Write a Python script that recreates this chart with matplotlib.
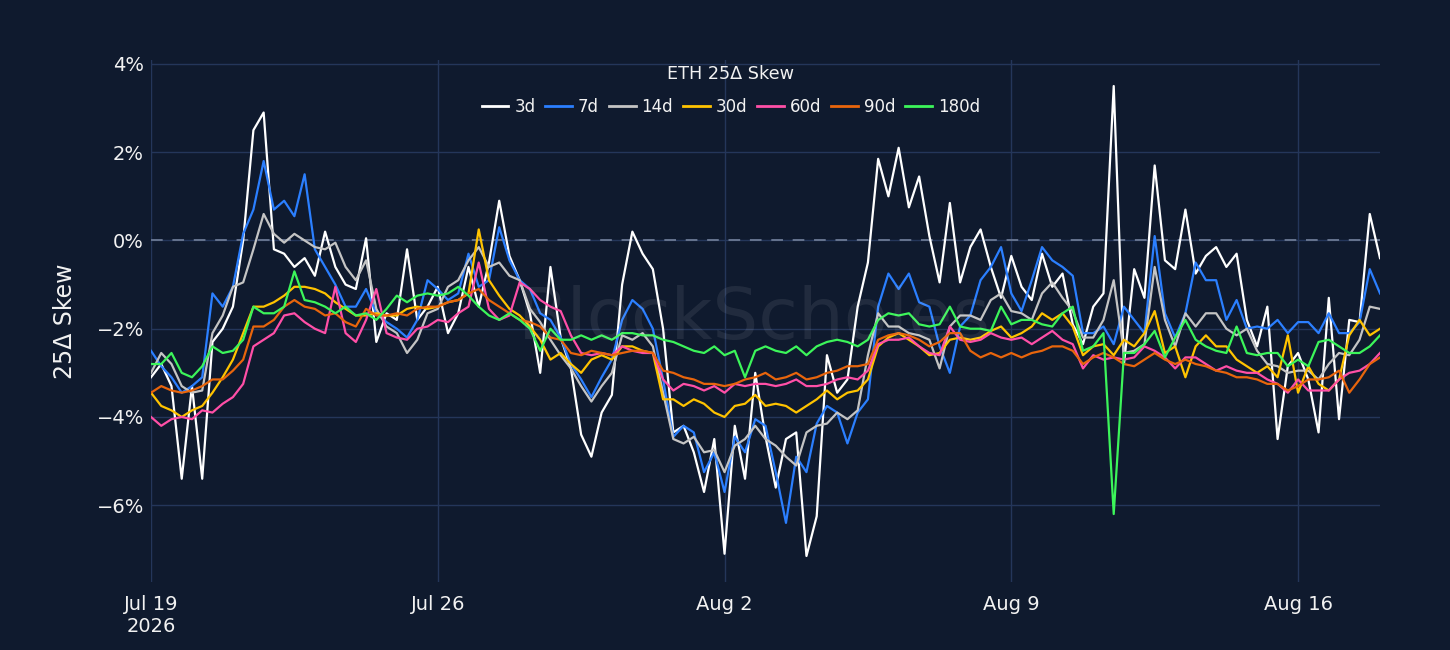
import matplotlib
matplotlib.use("Agg")
import matplotlib.pyplot as plt
import pandas as pd

plt.rcParams["font.family"] = ["DejaVu Sans"]

# 6-hourly samples, Jul 19 00:00 -> Aug 18 00:00 (values in %)
times = pd.date_range("2026-07-19", periods=121, freq="6h")

skew_3d = [
    -3.1, -2.8, -3.3, -5.4,   -3.3, -5.4, -2.3, -2.0,   -1.5, 0.0, 2.5, 2.9,
    -0.2, -0.3, -0.6, -0.4,   -0.8, 0.2, -0.6, -1.0,    -1.1, 0.05, -2.3, -1.65,
    -1.8, -0.2, -1.8, -1.5,   -1.05, -2.1, -1.65, -0.6,  -1.5, -0.5, 0.9, -0.35,
    -0.9, -1.65, -3.0, -0.6,  -2.2, -2.9, -4.4, -4.9,   -3.9, -3.5, -1.0, 0.2,
    -0.3, -0.65, -2.0, -4.35, -4.2, -4.8, -5.7, -4.5,   -7.1, -4.2, -5.4, -3.0,
    -4.45, -5.6, -4.5, -4.35, -7.15, -6.25, -2.6, -3.45, -3.15, -1.5, -0.5, 1.85,
    1.0, 2.1, 0.75, 1.45,     0.1, -0.95, 0.85, -0.95,  -0.15, 0.25, -0.6, -1.3,
    -0.35, -1.05, -1.35, -0.3, -1.05, -0.75, -1.9, -2.35, -1.5, -1.2, 3.5, -2.8,
    -0.65, -1.3, 1.7, -0.45,  -0.65, 0.7, -0.75, -0.35, -0.15, -0.6, -0.3, -1.8,
    -2.4, -1.5, -4.5, -2.85,  -2.55, -3.15, -4.35, -1.3, -4.05, -1.8, -1.85, 0.6,
    -0.4,
]
skew_7d = [
    -2.5, -2.85, -3.1, -3.45,  -3.3, -3.1, -1.2, -1.5,    -1.05, 0.15, 0.7, 1.8,
    0.7, 0.9, 0.55, 1.5,       -0.2, -0.6, -1.0, -1.5,    -1.5, -1.1, -1.65, -1.85,
    -2.0, -2.2, -1.8, -0.9,    -1.1, -1.35, -1.2, -0.3,   -1.05, -0.9, 0.3, -0.45,
    -0.9, -1.1, -1.65, -1.8,   -2.2, -2.8, -3.15, -3.55,  -3.1, -2.7, -1.8, -1.35,
    -1.55, -2.0, -3.15, -4.45, -4.2, -4.35, -5.25, -4.8,  -5.7, -4.45, -4.8, -4.05,
    -4.2, -5.25, -6.4, -4.9,   -5.25, -4.15, -3.75, -3.9, -4.6, -3.9, -3.6, -1.5,
    -0.75, -1.1, -0.75, -1.4,  -1.5, -2.4, -3.0, -1.95,   -1.7, -0.9, -0.6, -0.15,
    -1.2, -1.6, -0.9, -0.15,   -0.45, -0.6, -0.8, -2.1,   -2.1, -1.95, -2.35, -1.5,
    -1.8, -2.1, 0.1, -1.65,    -2.2, -1.65, -0.5, -0.9,   -0.9, -1.8, -1.35, -2.0,
    -1.95, -2.0, -1.8, -2.1,   -1.85, -1.85, -2.1, -1.65, -2.1, -2.1, -1.85, -0.65,
    -1.2,
]
skew_14d = [
    -3.0, -2.55, -2.8, -3.3,   -3.45, -3.4, -2.1, -1.7,   -1.05, -0.95, -0.2, 0.6,
    0.15, -0.05, 0.15, 0.0,    -0.15, -0.2, -0.05, -0.6,  -0.9, -0.45, -1.55, -1.95,
    -2.1, -2.55, -2.25, -1.65, -1.55, -1.05, -0.9, -0.45, -0.15, -0.6, -0.5, -0.8,
    -0.9, -1.55, -1.85, -2.25, -2.6, -2.9, -3.3, -3.65,   -3.3, -3.0, -2.15, -2.25,
    -2.1, -2.4, -3.45, -4.5,   -4.6, -4.45, -4.8, -4.75,  -5.25, -4.65, -4.5, -4.2,
    -4.5, -4.65, -4.9, -5.1,   -4.35, -4.2, -4.15, -3.9,  -4.05, -3.85, -2.6, -1.65,
    -1.95, -1.95, -2.1, -2.15, -2.25, -2.9, -1.95, -1.7,  -1.7, -1.8, -1.35, -1.2,
    -1.6, -1.65, -1.8, -1.2,   -0.95, -1.3, -1.6, -2.2,   -2.2, -1.8, -0.9, -2.55,
    -2.5, -2.35, -0.6, -1.8,   -2.4, -1.65, -1.95, -1.65, -1.65, -2.0, -2.15, -2.0,
    -2.5, -2.8, -2.85, -3.0,   -2.95, -2.95, -3.15, -2.8, -2.55, -2.6, -2.25, -1.5,
    -1.55,
]
skew_30d = [
    -3.45, -3.75, -3.85, -4.0, -3.85, -3.75, -3.45, -3.1, -2.7, -2.1, -1.5, -1.5,
    -1.4, -1.25, -1.05, -1.05, -1.1, -1.2, -1.4, -1.55,   -1.7, -1.7, -1.65, -1.7,
    -1.7, -1.55, -1.5, -1.55,  -1.5, -1.4, -1.35, -1.2,   0.25, -0.9, -1.25, -1.55,
    -1.7, -1.95, -2.25, -2.7,  -2.55, -2.8, -3.0, -2.7,   -2.6, -2.7, -2.4, -2.4,
    -2.5, -2.55, -3.6, -3.6,   -3.75, -3.6, -3.7, -3.9,   -4.0, -3.75, -3.7, -3.5,
    -3.75, -3.7, -3.75, -3.9,  -3.75, -3.6, -3.4, -3.6,   -3.45, -3.4, -3.15, -2.4,
    -2.2, -2.1, -2.25, -2.4,   -2.6, -2.55, -2.25, -2.2,  -2.25, -2.2, -2.05, -1.95,
    -2.2, -2.1, -1.95, -1.65,  -1.8, -1.65, -1.95, -2.6,  -2.4, -2.35, -2.6, -2.25,
    -2.4, -2.1, -1.6, -2.55,   -2.4, -3.1, -2.4, -2.15,   -2.4, -2.4, -2.7, -2.85,
    -3.0, -2.85, -3.1, -2.15,  -3.45, -2.85, -3.25, -3.4, -3.15, -2.15, -1.8, -2.15,
    -2.0,
]
skew_60d = [
    -4.0, -4.2, -4.05, -4.0,   -4.05, -3.85, -3.9, -3.7,  -3.55, -3.25, -2.4, -2.25,
    -2.1, -1.7, -1.65, -1.85,  -2.0, -2.1, -1.05, -2.1,   -2.3, -1.8, -1.1, -2.1,
    -2.2, -2.25, -2.0, -1.95,  -1.8, -1.85, -1.65, -1.5,  -0.5, -1.55, -1.8, -1.7,
    -0.95, -1.1, -1.35, -1.5,  -1.6, -2.15, -2.55, -2.6,  -2.55, -2.6, -2.4, -2.5,
    -2.55, -2.55, -3.15, -3.4, -3.25, -3.3, -3.4, -3.3,   -3.45, -3.25, -3.3, -3.25,
    -3.25, -3.3, -3.25, -3.15, -3.3, -3.3, -3.25, -3.15,  -3.1, -3.15, -2.95, -2.35,
    -2.25, -2.25, -2.2, -2.4,  -2.55, -2.6, -1.95, -2.25,  -2.3, -2.25, -2.1, -2.2,
    -2.25, -2.2, -2.35, -2.2,  -2.05, -2.25, -2.35, -2.9,  -2.6, -2.7, -2.65, -2.7,
    -2.65, -2.4, -2.5, -2.65,  -2.9, -2.65, -2.65, -2.8,   -2.95, -2.85, -2.95, -3.0,
    -3.0, -3.15, -3.25, -3.45, -3.15, -3.4, -3.4, -3.4,    -3.15, -3.0, -2.95, -2.8,
    -2.55,
]
skew_90d = [
    -3.45, -3.3, -3.4, -3.45,  -3.4, -3.3, -3.15, -3.15,  -2.95, -2.7, -1.95, -1.95,
    -1.8, -1.5, -1.35, -1.5,   -1.55, -1.7, -1.65, -1.85, -1.95, -1.55, -1.7, -1.7,
    -1.65, -1.7, -1.55, -1.5,  -1.5, -1.4, -1.35, -1.2,   -1.1, -1.35, -1.5, -1.65,
    -1.8, -1.85, -1.95, -2.2,  -2.25, -2.55, -2.6, -2.5,  -2.55, -2.6, -2.55, -2.5,
    -2.5, -2.55, -2.95, -3.0,  -3.1, -3.15, -3.25, -3.25, -3.3, -3.25, -3.15, -3.1,
    -3.0, -3.15, -3.1, -3.0,   -3.15, -3.1, -3.0, -2.95,  -2.85, -2.85, -2.8, -2.25,
    -2.15, -2.1, -2.15, -2.25, -2.4, -2.3, -2.1, -2.1,    -2.5, -2.65, -2.55, -2.65,
    -2.55, -2.65, -2.55, -2.5, -2.4, -2.4, -2.5, -2.8,    -2.65, -2.55, -2.65, -2.8,
    -2.85, -2.7, -2.55, -2.7,  -2.8, -2.7, -2.8, -2.85,   -2.95, -3.0, -3.1, -3.1,
    -3.15, -3.25, -3.25, -3.4, -3.3, -3.15, -3.15, -3.1,  -2.95, -3.45, -3.15, -2.8,
    -2.65,
]
skew_180d = [
    -2.8, -2.8, -2.55, -3.0,   -3.1, -2.85, -2.4, -2.55,  -2.5, -2.25, -1.5, -1.65,
    -1.65, -1.5, -0.7, -1.35,  -1.4, -1.5, -1.65, -1.5,   -1.7, -1.65, -1.8, -1.55,
    -1.25, -1.4, -1.25, -1.2,  -1.25, -1.2, -1.05, -1.25, -1.5, -1.7, -1.8, -1.65,
    -1.8, -2.0, -2.5, -2.0,    -2.25, -2.25, -2.15, -2.25, -2.15, -2.25, -2.1, -2.1,
    -2.15, -2.15, -2.25, -2.3, -2.4, -2.5, -2.55, -2.4,   -2.6, -2.5, -3.1, -2.5,
    -2.4, -2.5, -2.55, -2.4,   -2.6, -2.4, -2.3, -2.25,   -2.3, -2.4, -2.25, -1.8,
    -1.65, -1.7, -1.65, -1.9,  -1.95, -1.9, -1.5, -1.95,  -2.0, -2.0, -2.05, -1.5,
    -1.9, -1.8, -1.8, -1.9,    -1.95, -1.65, -1.5, -2.5,  -2.4, -2.1, -6.2, -2.55,
    -2.55, -2.35, -2.05, -2.65, -2.2, -1.8, -2.25, -2.4,  -2.5, -2.55, -1.95, -2.55,
    -2.6, -2.55, -2.55, -2.85, -2.7, -2.85, -2.3, -2.25,  -2.4, -2.55, -2.55, -2.4,
    -2.15,
]

labels = ["3d", "7d", "14d", "30d", "60d", "90d", "180d"]
colors = ["#ffffff", "#2b7fff", "#c4c4c4", "#ffc300", "#ff4fa7", "#e8650c", "#3cf55a"]
series = [skew_3d, skew_7d, skew_14d, skew_30d, skew_60d, skew_90d, skew_180d]

tick_dates = pd.to_datetime(["2026-07-19", "2026-07-26", "2026-08-02", "2026-08-09", "2026-08-16"])
tick_labels = ["Jul 19\n2026", "Jul 26", "Aug 2", "Aug 9", "Aug 16"]
y_ticks = [-6, -4, -2, 0, 2, 4]
y_labels = ["\u22126%", "\u22124%", "\u22122%", "0%", "2%", "4%"]

BG = "#0f1a2e"
GRID = "#24365a"
TXT = "#f2f2f2"

fig = plt.figure(figsize=(14.5, 6.5), dpi=100, facecolor=BG)
ax = fig.add_axes([151 / 1450, 68 / 650, 1229 / 1450, 522 / 650])
ax.set_facecolor(BG)

for lab, vals, col in zip(labels, series, colors):
    ax.plot(times, vals, color=col, lw=1.6, label=lab, zorder=3)

ax.axhline(0, color="#66748f", lw=1.4, ls=(0, (6, 5)), zorder=2)

ax.set_xlim(times[0], times[-1])
ax.set_ylim(-7.74, 4.09)
ax.set_xticks(tick_dates, tick_labels)
ax.set_yticks(y_ticks, y_labels)
ax.grid(True, color=GRID, lw=1.0, zorder=1)
ax.set_axisbelow(True)
for s in ax.spines.values():
    s.set_visible(False)
ax.tick_params(axis="both", length=0, labelsize=14, colors=TXT)
ax.tick_params(axis="x", pad=9)
ax.tick_params(axis="y", pad=5)
for t in ax.get_xticklabels():
    t.set_linespacing(1.2)

ax.set_ylabel("25\u0394 Skew", fontsize=17, color=TXT)
ax.yaxis.set_label_coords(-0.06, 0.5)

leg = ax.legend(
    title="ETH 25\u0394 Skew",
    loc="upper center",
    bbox_to_anchor=(0.504, 0.913),
    bbox_transform=fig.transFigure,
    ncol=7,
    frameon=False,
    fontsize=12,
    title_fontsize=12.7,
    handlelength=1.6,
    handletextpad=0.35,
    columnspacing=0.6,
    labelspacing=0.9,
    borderpad=0,
    labelcolor=TXT,
)
leg.get_title().set_color(TXT)
for h in leg.get_lines():
    h.set_linewidth(2)

# faint watermark over the lines
fig.text(0.52, 0.508, "BlockScholes", fontsize=52, color="#ffffff", alpha=0.08,
         ha="center", va="center", zorder=10)

fig.savefig("out.png", dpi=100, facecolor=BG)
